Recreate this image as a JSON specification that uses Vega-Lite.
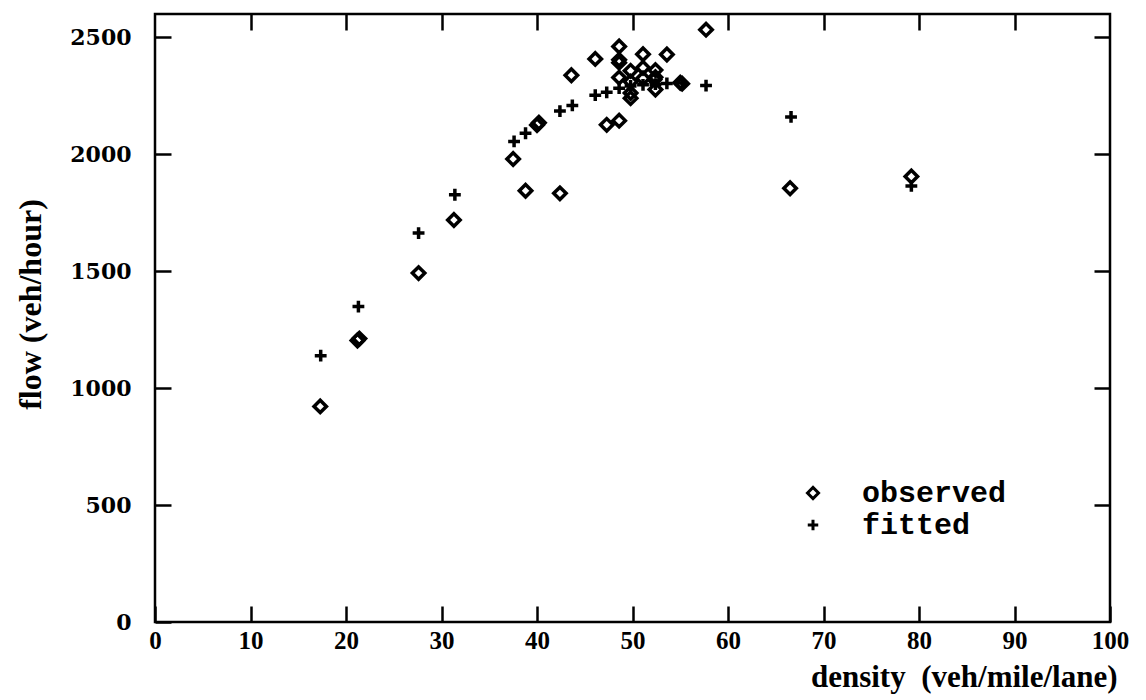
{
  "$schema": "https://vega.github.io/schema/vega-lite/v6.json",
  "width": 955,
  "height": 608,
  "autosize": {"type": "none"},
  "padding": {"left": 155, "top": 14, "right": 36, "bottom": 78},
  "background": "white",
  "config": {
    "view": {"stroke": "black", "strokeWidth": 2.5},
    "axis": {"domain": false, "grid": false, "ticks": true, "tickColor": "black", "tickWidth": 2.5, "tickSize": -16, "labelColor": "black", "titleColor": "black"}
  },
  "data": {
    "values": [
      {"density": 17.3, "flow": 922, "series": "observed"},
      {"density": 21.2, "flow": 1204, "series": "observed"},
      {"density": 21.4, "flow": 1212, "series": "observed"},
      {"density": 27.6, "flow": 1492, "series": "observed"},
      {"density": 31.3, "flow": 1719, "series": "observed"},
      {"density": 37.5, "flow": 1980, "series": "observed"},
      {"density": 38.8, "flow": 1844, "series": "observed"},
      {"density": 40.0, "flow": 2125, "series": "observed"},
      {"density": 40.2, "flow": 2135, "series": "observed"},
      {"density": 42.4, "flow": 1833, "series": "observed"},
      {"density": 43.6, "flow": 2338, "series": "observed"},
      {"density": 46.1, "flow": 2408, "series": "observed"},
      {"density": 47.3, "flow": 2126, "series": "observed"},
      {"density": 48.6, "flow": 2144, "series": "observed"},
      {"density": 48.6, "flow": 2461, "series": "observed"},
      {"density": 48.6, "flow": 2392, "series": "observed"},
      {"density": 48.6, "flow": 2404, "series": "observed"},
      {"density": 51.1, "flow": 2428, "series": "observed"},
      {"density": 53.6, "flow": 2427, "series": "observed"},
      {"density": 48.6, "flow": 2328, "series": "observed"},
      {"density": 49.8, "flow": 2357, "series": "observed"},
      {"density": 51.1, "flow": 2370, "series": "observed"},
      {"density": 52.4, "flow": 2360, "series": "observed"},
      {"density": 51.1, "flow": 2324, "series": "observed"},
      {"density": 52.3, "flow": 2320, "series": "observed"},
      {"density": 52.4, "flow": 2330, "series": "observed"},
      {"density": 49.8, "flow": 2311, "series": "observed"},
      {"density": 52.4, "flow": 2277, "series": "observed"},
      {"density": 49.8, "flow": 2240, "series": "observed"},
      {"density": 49.8, "flow": 2262, "series": "observed"},
      {"density": 55.2, "flow": 2302, "series": "observed"},
      {"density": 55.0, "flow": 2306, "series": "observed"},
      {"density": 57.7, "flow": 2533, "series": "observed"},
      {"density": 66.5, "flow": 1855, "series": "observed"},
      {"density": 79.2, "flow": 1905, "series": "observed"},
      {"density": 17.35, "flow": 1139, "series": "fitted"},
      {"density": 21.3, "flow": 1349, "series": "fitted"},
      {"density": 27.6, "flow": 1663, "series": "fitted"},
      {"density": 31.4, "flow": 1827, "series": "fitted"},
      {"density": 37.6, "flow": 2055, "series": "fitted"},
      {"density": 38.8, "flow": 2090, "series": "fitted"},
      {"density": 42.4, "flow": 2185, "series": "fitted"},
      {"density": 43.7, "flow": 2209, "series": "fitted"},
      {"density": 46.1, "flow": 2253, "series": "fitted"},
      {"density": 47.3, "flow": 2265, "series": "fitted"},
      {"density": 48.6, "flow": 2283, "series": "fitted"},
      {"density": 49.8, "flow": 2292, "series": "fitted"},
      {"density": 51.1, "flow": 2297, "series": "fitted"},
      {"density": 52.4, "flow": 2300, "series": "fitted"},
      {"density": 53.6, "flow": 2303, "series": "fitted"},
      {"density": 55.2, "flow": 2305, "series": "fitted"},
      {"density": 57.7, "flow": 2294, "series": "fitted"},
      {"density": 66.6, "flow": 2160, "series": "fitted"},
      {"density": 79.2, "flow": 1865, "series": "fitted"}
    ]
  },
  "layer": [
    {
      "mark": {"type": "point", "filled": false, "strokeWidth": 3.5, "opacity": 1, "size": 140},
      "encoding": {
        "x": {
          "field": "density", "type": "quantitative",
          "scale": {"domain": [0, 100], "nice": false, "zero": false},
          "axis": {
            "orient": "bottom", "values": [0, 10, 20, 30, 40, 50, 60, 70, 80, 90, 100], "format": "d",
            "labelFont": "Liberation Serif", "labelFontWeight": "bold", "labelFontSize": 25, "labelPadding": 22, "labelFlush": false,
            "title": "density\u00a0 (veh/mile/lane)", "titleFont": "Liberation Serif", "titleFontSize": 31, "titleFontWeight": "bold",
            "titleAlign": "right", "titleX": 962, "titleY": 64, "titleBaseline": "alphabetic"
          }
        },
        "y": {
          "field": "flow", "type": "quantitative",
          "scale": {"domain": [0, 2600], "nice": false, "zero": true},
          "axis": {
            "orient": "left", "values": [0, 500, 1000, 1500, 2000, 2500], "format": "d",
            "labelFont": "DejaVu Serif", "labelFontWeight": "bold", "labelFontSize": 22, "labelPadding": 40, "labelFlush": false,
            "title": "flow (veh/hour)", "titleFont": "Liberation Serif", "titleFontSize": 32, "titleFontWeight": "bold",
            "titleX": -115, "titleY": 290, "titleAlign": "center", "titleBaseline": "alphabetic", "titleAngle": 270
          }
        },
        "shape": {
          "field": "series", "type": "nominal",
          "scale": {"domain": ["observed", "fitted"], "range": ["M-1.05,0L0,-1.05L1.05,0L0,1.05Z", "M-1,0H1M0,-1V1"]},
          "legend": {
            "orient": "none", "legendX": 643, "legendY": 464, "title": null,
            "labelFont": "Liberation Mono", "labelFontWeight": "bold", "labelFontSize": 30, "labelColor": "black",
            "labelOffset": 34, "symbolStrokeWidth": 3, "symbolSize": 110, "symbolStrokeColor": "black",
            "symbolFillColor": "transparent", "rowPadding": 2
          }
        },
        "color": {"value": "black"}
      }
    },
    {
      "mark": {"type": "point", "opacity": 0},
      "encoding": {
        "x": {"field": "density", "type": "quantitative", "axis": {"orient": "top", "values": [10, 20, 30, 40, 50, 60, 70, 80, 90], "labels": false, "title": null}},
        "y": {"field": "flow", "type": "quantitative", "axis": {"orient": "right", "values": [500, 1000, 1500, 2000, 2500], "labels": false, "title": null}}
      }
    }
  ],
  "resolve": {"axis": {"x": "independent", "y": "independent"}}
}
